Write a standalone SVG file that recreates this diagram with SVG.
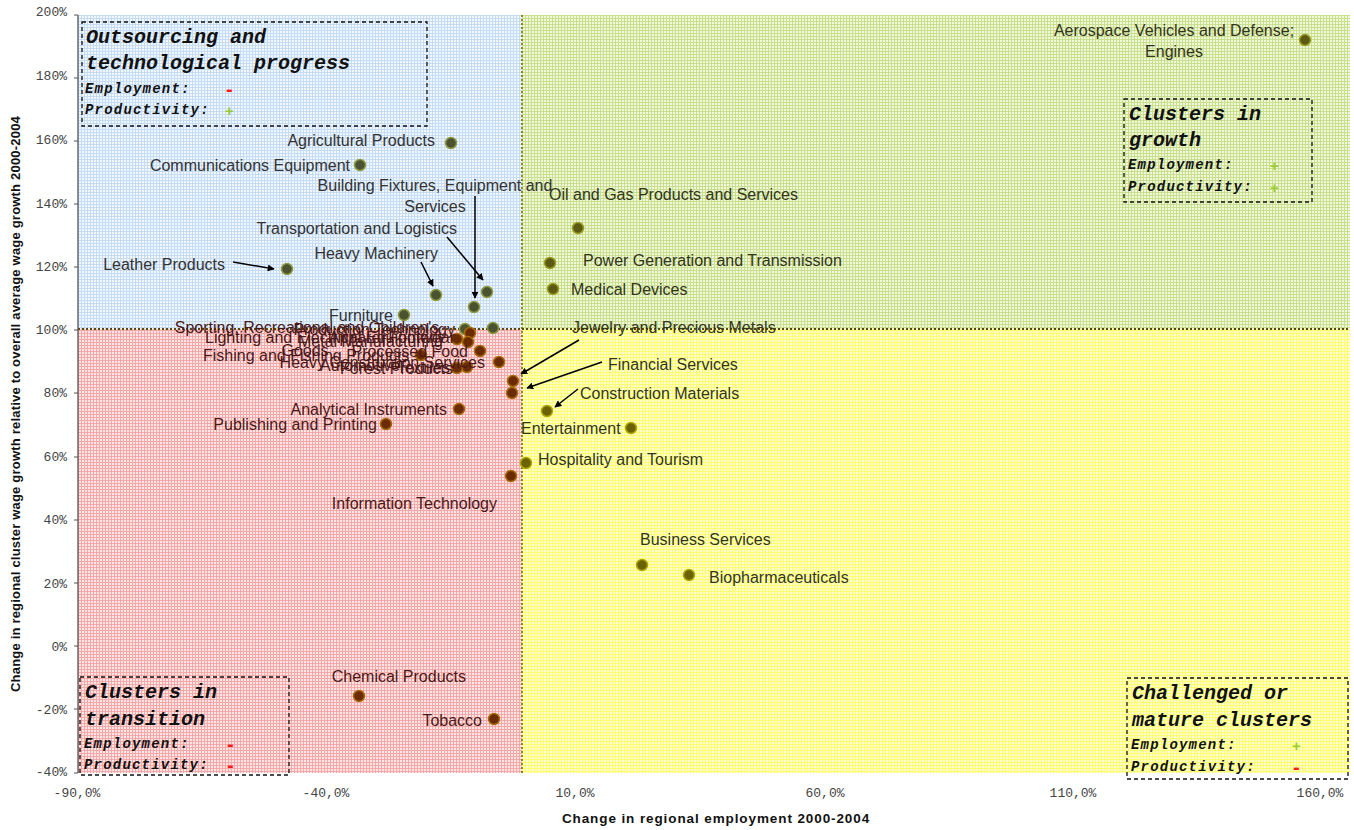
<svg xmlns="http://www.w3.org/2000/svg" width="1354" height="830" viewBox="0 0 1354 830">
<style>
.lbl{font-family:"Liberation Sans",Arial,sans-serif;font-size:16px;fill:#333333}
.lr{fill:#4a1818}
.lg{fill:#33351a}
.tick{font-family:"Liberation Mono","Courier New",monospace;font-size:13px;fill:#444444}
.ttl{font-family:"Liberation Sans",Arial,sans-serif;font-weight:bold;fill:#111111}
.bt{font-family:"Liberation Mono","Courier New",monospace;font-size:20px;font-weight:bold;font-style:italic;fill:#111111}
.bs{font-family:"Liberation Mono","Courier New",monospace;font-size:14px;font-weight:bold;font-style:italic;fill:#111111;letter-spacing:1.2px}
.minus{font-family:"Liberation Sans",Arial,sans-serif;font-size:20px;font-weight:bold;fill:#ff1a1a}
.plus{font-family:"Liberation Sans",Arial,sans-serif;font-size:15px;font-weight:bold;fill:#99cc33}
.box{fill:none;stroke:#111111;stroke-width:1.3;stroke-dasharray:4 3}
.pb{fill:#4a5232;stroke:#8e9a3e;stroke-width:1.5}
.pg{fill:#5a5a12;stroke:#9c9c22;stroke-width:1.5}
.pr{fill:#6a2a02;stroke:#a86a06;stroke-width:1.5}
.py{fill:#6b6200;stroke:#b0a800;stroke-width:1.5}
.arr{stroke:#000000;stroke-width:1.5;fill:none;marker-end:url(#ah)}
</style>
<defs>
<pattern id="gBlue" width="3" height="3" patternUnits="userSpaceOnUse"><rect width="3" height="3" fill="#f1f7ff"/><path d="M0 0.5H3M0.5 0V3" stroke="#c6dcf4" stroke-width="1"/></pattern>
<pattern id="gGreen" width="3" height="3" patternUnits="userSpaceOnUse"><rect width="3" height="3" fill="#f0f7dc"/><path d="M0 0.5H3M0.5 0V3" stroke="#c8df8c" stroke-width="1"/></pattern>
<pattern id="gRed" width="3" height="3" patternUnits="userSpaceOnUse"><rect width="3" height="3" fill="#ffe6e6"/><path d="M0 0.5H3M0.5 0V3" stroke="#f6a8a8" stroke-width="1"/></pattern>
<pattern id="gYellow" width="3" height="3" patternUnits="userSpaceOnUse"><rect width="3" height="3" fill="#ffffd2"/><path d="M0 0.5H3M0.5 0V3" stroke="#ffff70" stroke-width="1"/></pattern>
<marker id="ah" viewBox="0 0 10 10" refX="9" refY="5" markerWidth="7" markerHeight="7" orient="auto" markerUnits="userSpaceOnUse"><path d="M0 0L10 5L0 10z" fill="#000000"/></marker>
</defs>
<rect width="1354" height="830" fill="#ffffff"/>

<g id="quadrants">
<rect x="78" y="15" width="444" height="314" fill="url(#gBlue)"/>
<rect x="522" y="15" width="828" height="314" fill="url(#gGreen)"/>
<rect x="78" y="329" width="444" height="444" fill="url(#gRed)"/>
<rect x="522" y="329" width="828" height="444" fill="url(#gYellow)"/>
<line x1="522" y1="15" x2="522" y2="773" stroke="#8a8a1e" stroke-width="2" stroke-dasharray="2 2"/>
<line x1="78" y1="329" x2="1350" y2="329" stroke="#5a4a0a" stroke-width="2" stroke-dasharray="2 2"/>
</g>

<g id="axes">
<line x1="78" y1="15" x2="78" y2="773" stroke="#555555" stroke-width="1.3"/>
<path d="M74 15H78M74 78H78M74 141H78M74 204H78M74 267H78M74 330H78M74 393H78M74 457H78M74 520H78M74 583H78M74 646H78M74 709H78M74 773H78" stroke="#555555" stroke-width="1"/>
<g text-anchor="end">
<text class="tick" x="67" y="16">200%</text>
<text class="tick" x="67" y="80">180%</text>
<text class="tick" x="67" y="144">160%</text>
<text class="tick" x="67" y="208">140%</text>
<text class="tick" x="67" y="271">120%</text>
<text class="tick" x="67" y="334">100%</text>
<text class="tick" x="67" y="397">80%</text>
<text class="tick" x="67" y="461">60%</text>
<text class="tick" x="67" y="524">40%</text>
<text class="tick" x="67" y="588">20%</text>
<text class="tick" x="67" y="651">0%</text>
<text class="tick" x="67" y="714">-20%</text>
<text class="tick" x="67" y="776">-40%</text>
</g>
<g text-anchor="middle">
<text class="tick" x="77" y="797">-90,0%</text>
<text class="tick" x="326" y="797">-40,0%</text>
<text class="tick" x="575" y="797">10,0%</text>
<text class="tick" x="825" y="797">60,0%</text>
<text class="tick" x="1073" y="797">110,0%</text>
<text class="tick" x="1320" y="797">160,0%</text>
</g>
<text class="ttl" x="716" y="823" text-anchor="middle" font-size="13.5" letter-spacing="0.9">Change in regional employment 2000-2004</text>
<text class="ttl" x="0" y="0" text-anchor="middle" font-size="13" letter-spacing="0.2" transform="translate(20,404) rotate(-90)">Change in regional cluster wage growth relative to overall average wage growth 2000-2004</text>
</g>

<g id="connectors">
<line class="arr" x1="233" y1="262" x2="274" y2="269"/>
<line class="arr" x1="421" y1="262" x2="433" y2="286"/>
<line class="arr" x1="447" y1="237" x2="483" y2="280"/>
<line class="arr" x1="475" y1="196" x2="475" y2="298"/>
<line class="arr" x1="579" y1="340" x2="521" y2="374"/>
<line class="arr" x1="602" y1="362" x2="527" y2="388"/>
<line class="arr" x1="578" y1="389" x2="555" y2="407"/>
</g>

<g id="points">
<circle class="pb" cx="451" cy="143" r="5.5"/>
<circle class="pb" cx="360" cy="165" r="5.5"/>
<circle class="pb" cx="287" cy="269" r="5.5"/>
<circle class="pb" cx="436" cy="295" r="5.5"/>
<circle class="pb" cx="487" cy="292" r="5.5"/>
<circle class="pb" cx="474" cy="307" r="5.5"/>
<circle class="pb" cx="404" cy="315" r="5.5"/>
<circle class="pb" cx="493" cy="328" r="5.5"/>
<circle class="pb" cx="465" cy="329" r="5.5"/>
<circle class="pr" cx="470" cy="333" r="5.5"/>
<circle class="pr" cx="457" cy="339" r="5.5"/>
<circle class="pr" cx="468" cy="342" r="5.5"/>
<circle class="pr" cx="480" cy="351" r="5.5"/>
<circle class="pr" cx="421" cy="355" r="5.5"/>
<circle class="pr" cx="499" cy="362" r="5.5"/>
<circle class="pr" cx="467" cy="367" r="5.5"/>
<circle class="pr" cx="457" cy="368" r="5.5"/>
<circle class="pr" cx="513" cy="381" r="5.5"/>
<circle class="pr" cx="512" cy="393" r="5.5"/>
<circle class="pr" cx="459" cy="409" r="5.5"/>
<circle class="pr" cx="386" cy="424" r="5.5"/>
<circle class="pr" cx="511" cy="476" r="5.5"/>
<circle class="pr" cx="359" cy="696" r="5.5"/>
<circle class="pr" cx="494" cy="719" r="5.5"/>
<circle class="py" cx="547" cy="411" r="5.5"/>
<circle class="py" cx="631" cy="428" r="5.5"/>
<circle class="py" cx="526" cy="463" r="5.5"/>
<circle class="py" cx="642" cy="565" r="5.5"/>
<circle class="py" cx="689" cy="575" r="5.5"/>
<circle class="pg" cx="1305" cy="40" r="5.5"/>
<circle class="pg" cx="578" cy="228" r="5.5"/>
<circle class="pg" cx="550" cy="263" r="5.5"/>
<circle class="pg" cx="553" cy="289" r="5.5"/>
</g>

<g id="labels">
<text class="lbl" x="435" y="146" text-anchor="end">Agricultural Products</text>
<text class="lbl" x="350" y="171" text-anchor="end">Communications Equipment</text>
<text class="lbl" x="435" y="191" text-anchor="middle">Building Fixtures, Equipment and</text>
<text class="lbl" x="435" y="212" text-anchor="middle">Services</text>
<text class="lbl" x="457" y="234" text-anchor="end">Transportation and Logistics</text>
<text class="lbl" x="438" y="259" text-anchor="end">Heavy Machinery</text>
<text class="lbl" x="225" y="270" text-anchor="end">Leather Products</text>
<text class="lbl" x="393" y="321" text-anchor="end">Furniture</text>
<text class="lbl lr" x="307" y="333" text-anchor="middle">Sporting, Recreational and Children's</text>
<text class="lbl lr" x="305" y="356" text-anchor="middle">Goods</text>
<text class="lbl lr" x="455" y="335" text-anchor="end">Production Technology</text>
<text class="lbl lr" x="205" y="343">Lighting and Electrical Equipment</text>
<text class="lbl lr" x="298" y="347">Metal Manufacturing</text>
<text class="lbl lr" x="455" y="343" text-anchor="end">Apparel Footwear</text>
<text class="lbl lr" x="203" y="361">Fishing and Fishing Products</text>
<text class="lbl lr" x="468" y="357" text-anchor="end">Processed Food</text>
<text class="lbl lr" x="485" y="368" text-anchor="end">Heavy Construction Services</text>
<text class="lbl lr" x="320" y="371">Automotive</text>
<text class="lbl lr" x="340" y="374">Forest Products</text>
<text class="lbl lr" x="450" y="373" text-anchor="end">Textiles</text>
<text class="lbl lr" x="447" y="415" text-anchor="end">Analytical Instruments</text>
<text class="lbl lr" x="377" y="430" text-anchor="end">Publishing and Printing</text>
<text class="lbl lr" x="497" y="509" text-anchor="end">Information Technology</text>
<text class="lbl lr" x="466" y="682" text-anchor="end">Chemical Products</text>
<text class="lbl lr" x="482" y="726" text-anchor="end">Tobacco</text>
<text class="lbl lg" x="572" y="333">Jewelry and Precious Metals</text>
<text class="lbl lg" x="608" y="370">Financial Services</text>
<text class="lbl lg" x="580" y="399">Construction Materials</text>
<text class="lbl lg" x="521" y="434">Entertainment</text>
<text class="lbl lg" x="538" y="465">Hospitality and Tourism</text>
<text class="lbl lg" x="640" y="545">Business Services</text>
<text class="lbl lg" x="709" y="583">Biopharmaceuticals</text>
<text class="lbl lg" x="549" y="200">Oil and Gas Products and Services</text>
<text class="lbl lg" x="583" y="266">Power Generation and Transmission</text>
<text class="lbl lg" x="571" y="295">Medical Devices</text>
<text class="lbl lg" x="1174" y="36" text-anchor="middle">Aerospace Vehicles and Defense;</text>
<text class="lbl lg" x="1174" y="57" text-anchor="middle">Engines</text>
</g>

<g id="box-outsourcing">
<rect class="box" x="82" y="22" width="345" height="104"/>
<text class="bt" x="86" y="43">Outsourcing and</text>
<text class="bt" x="86" y="69">technological progress</text>
<text class="bs" x="85" y="93">Employment:</text>
<text class="bs" x="85" y="114">Productivity:</text>
<text class="minus" x="226" y="96">-</text>
<text class="plus" x="225" y="116">+</text>
</g>

<g id="box-growth">
<rect class="box" x="1124" y="99" width="188" height="103"/>
<text class="bt" x="1129" y="120">Clusters in</text>
<text class="bt" x="1129" y="146">growth</text>
<text class="bs" x="1128" y="169">Employment:</text>
<text class="bs" x="1128" y="191">Productivity:</text>
<text class="plus" x="1270" y="171">+</text>
<text class="plus" x="1270" y="193">+</text>
</g>

<g id="box-transition">
<rect class="box" x="80" y="677" width="209" height="98"/>
<text class="bt" x="85" y="698">Clusters in</text>
<text class="bt" x="85" y="725">transition</text>
<text class="bs" x="84" y="748">Employment:</text>
<text class="bs" x="84" y="769">Productivity:</text>
<text class="minus" x="227" y="751">-</text>
<text class="minus" x="227" y="772">-</text>
</g>

<g id="box-mature">
<rect class="box" x="1127" y="678" width="221" height="101"/>
<text class="bt" x="1132" y="699">Challenged or</text>
<text class="bt" x="1132" y="726">mature clusters</text>
<text class="bs" x="1131" y="749">Employment:</text>
<text class="bs" x="1131" y="771">Productivity:</text>
<text class="plus" x="1292" y="751">+</text>
<text class="minus" x="1293" y="774">-</text>
</g>
</svg>
